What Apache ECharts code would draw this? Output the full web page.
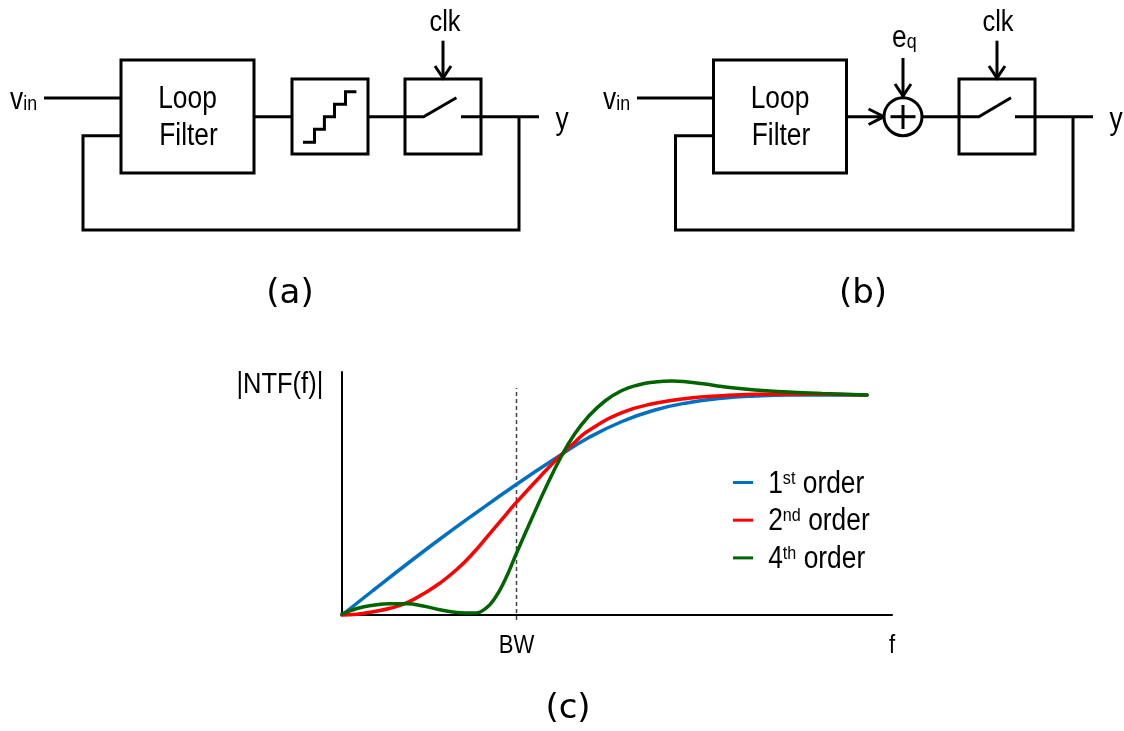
<!DOCTYPE html>
<html><head><meta charset="utf-8">
<style>html,body{margin:0;padding:0;background:#fff}#c{width:1124px;height:731px}</style>
<script src="https://cdn.jsdelivr.net/npm/echarts@6/dist/echarts.min.js"></script>
</head><body><div id="c"></div>
<script>
// Values (f, |NTF|), in arbitrary units
const seriesNames = ['1st order', '2nd order', '4th order'];
const seriesColors = ['#0070C0', '#FF0000', '#006400'];
const firstOrder = [[0,0],[31,24.5],[65,51],[98,76],[131,100],[175,131],[218,159.5],[246,177],[280,193.5],[313,205],[346,212.3],[380,216.7],[413,219],[446,220],[525,220]];
const secondOrder = [[0,0],[15,0.8],[31,3.3],[48,6.7],[65,12.3],[81,21],[98,32],[115,45.7],[131,61.7],[148,81.7],[165,101.7],[175,113.3],[198,138.3],[218,159],[232,172],[246,184],[280,202.3],[313,211.7],[346,216.7],[380,219.3],[413,220.7],[446,221],[525,220]];
const fourthOrder = [[0,1],[15,6.5],[31,9.8],[48,11.3],[65,11.2],[81,9],[98,5.2],[115,2.6],[131,2],[143,6],[153,17],[163,35],[175,63],[190,97],[205,130],[219,158],[232,180],[246,198],[263,214],[280,224.5],[296,230],[313,233],[330,234],[346,233],[363,231],[380,228.5],[413,225],[446,223],[480,221.5],[525,220]];
const bwMarker = [[174.5,-5],[174.5,227]];
const xTickValues = [174.5, 550];
const xTickLabels = {174.5:'BW', 550:'f'};

const NARROW = '"Liberation Sans",Arial,sans-serif';
const ROUND = '"DejaVu Sans",sans-serif';
const LW = 3;
const line = pts => ({type:'polyline', silent:true, shape:{points:pts}, style:{stroke:'#000',lineWidth:LW,fill:null,lineJoin:'miter'}});
const rect = (x0,y0,x1,y1) => ({type:'rect', silent:true, shape:{x:x0,y:y0,width:x1-x0,height:y1-y0}, style:{stroke:'#000',lineWidth:LW,fill:'#fff'}});
const text = (x,y,t,size,font,extra) => ({type:'text', silent:true, x, y, style:Object.assign({text:t, fontSize:size, fontFamily:font||NARROW, fill:'#000', align:'center', verticalAlign:'middle'},extra||{})});
const subText = (x,y,a,b,bs) => text(x,y,'{a|'+a+'}{b|'+b+'}',30,NARROW,{align:'left',rich:{a:{fontSize:31,fontFamily:NARROW,fill:'#000'},b:{fontSize:bs,fontFamily:NARROW,fill:'#000',padding:[9,0,0,0]}}});
const downArrow = (x,y0,y1) => [line([[x,y0],[x,y1]]), line([[x-8,y1-13],[x,y1-1],[x+8,y1-13]])];

const diagramA = [
  line([[44,98],[121,98]]),
  line([[121,135.7],[83,135.7],[83,230],[519,230],[519,116.7]]),
  line([[254,116.7],[292,116.7]]),
  line([[368,116.7],[423.6,116.7],[456.4,97.7]]),
  line([[461,116.7],[539,116.7]]),
  rect(121,60,254,173), rect(292,79,368,154),
  {type:'rect',silent:true,shape:{x:405,y:79,width:76,height:75},style:{stroke:'#000',lineWidth:LW,fill:null}},
  line([[303,142.3],[314.5,142.3],[314.5,129.3],[324.4,129.3],[324.4,116.7],[334.5,116.7],[334.5,104.3],[345.5,104.3],[345.5,91.7],[356.4,91.7]]),
  ...downArrow(443,40.7,79),
  subText(10,100,'v','in',21),
  text(187.5,99.5,'Loop',31), text(188.5,136.5,'Filter',31),
  text(445,23,'clk',30), text(562,120,'y',31),
  text(290,294,'(a)',34,ROUND)
];
const diagramB = [
  line([[637,98],[713.5,98]]),
  line([[713.5,135.7],[675.5,135.7],[675.5,230],[1073,230],[1073,116.7]]),
  line([[846.5,116.7],[884,116.7]]),
  line([[868.6,109],[884,116.7],[868.6,124.5]]),
  line([[922,116.7],[978.8,116.7],[1011,97.7]]),
  line([[1015,116.7],[1093,116.7]]),
  rect(713.5,60,846.5,173),
  {type:'rect',silent:true,shape:{x:959,y:79,width:76,height:75},style:{stroke:'#000',lineWidth:LW,fill:null}},
  {type:'circle',silent:true,shape:{cx:903,cy:116.7,r:19},style:{stroke:'#000',lineWidth:LW,fill:'#fff'}},
  line([[890.5,116.7],[915.5,116.7]]), line([[903,105],[903,129]]),
  ...downArrow(903,58,97),
  ...downArrow(997,40.7,79),
  subText(603,100,'v','in',21),
  subText(892,38,'e','q',21),
  text(780,99.5,'Loop',31), text(781,136.5,'Filter',31),
  text(998,23,'clk',30), text(1116,120,'y',31),
  text(863,294,'(b)',34,ROUND),
  text(568,709,'(c)',34,ROUND)
];

const legendLabels = {'1st order':'1{s|st} order','2nd order':'2{s|nd} order','4th order':'4{s|th} order'};
const curve = (name,i,data) => ({name,type:'line',data,smooth:0.5,showSymbol:false,symbol:'none',clip:false,z:3,
  lineStyle:{color:seriesColors[i],width:3.5,cap:'round'},itemStyle:{color:seriesColors[i]}});

const chart = echarts.init(document.getElementById('c'),null,{renderer:'canvas'});
chart.setOption({
  animation:false, backgroundColor:'#fff',
  grid:{left:342,top:372,width:550,height:243,containLabel:false},
  legend:{orient:'vertical',left:733,top:466,itemWidth:20,itemHeight:3,itemGap:4.2,icon:'rect',padding:0,
    data:seriesNames,selectedMode:false,
    formatter:n=>legendLabels[n],
    textStyle:{fontFamily:NARROW,fontSize:31,color:'#000',lineHeight:30,padding:[3,0,0,12],
      rich:{s:{fontSize:19,fontFamily:NARROW,color:'#000',padding:[0,0,11,0]}}}},
  xAxis:{type:'value',min:0,max:550,splitLine:{show:false},axisTick:{show:false},
    axisLine:{show:true,onZero:false,lineStyle:{color:'#000',width:2}},
    axisLabel:{show:true,customValues:xTickValues,formatter:v=>xTickLabels[v]||'',color:'#000',fontFamily:NARROW,fontSize:26,margin:18,showMaxLabel:true,alignMaxLabel:'center',hideOverlap:false}},
  yAxis:{type:'value',min:0,max:243,splitLine:{show:false},axisTick:{show:false},axisLabel:{show:false},
    axisLine:{show:true,onZero:false,lineStyle:{color:'#000',width:2}},
    name:'|NTF(f)|',nameLocation:'end',nameGap:-13,
    nameTextStyle:{align:'right',verticalAlign:'middle',fontFamily:NARROW,fontSize:30,color:'#000',padding:[0,22,0,0]}},
  tooltip:{show:false},
  series:[
    curve(seriesNames[0],0,firstOrder),
    curve(seriesNames[1],1,secondOrder),
    curve(seriesNames[2],2,fourthOrder),
    {name:'BW',type:'line',data:bwMarker,showSymbol:false,symbol:'none',clip:false,z:2,
     lineStyle:{color:'#444',width:1.5,type:[4,3]}}
  ],
  graphic:{elements:[...diagramA,...diagramB]}
});

// The reference uses a horizontally condensed Arial: squeeze the text objects about their anchors.
const zr = chart.getZr();
const done = new Set();
zr.storage.getDisplayList(true).forEach(el => {
  const p = el.parent;
  if (!p || done.has(p) || !p.style || !el.style || !/Liberation/.test(el.style.font || '')) return;
  done.add(p);
  p.scaleX = 0.85;
  p.originX = p.style.x || 0;
  p.markRedraw();
});
zr.refresh();
</script></body></html>
